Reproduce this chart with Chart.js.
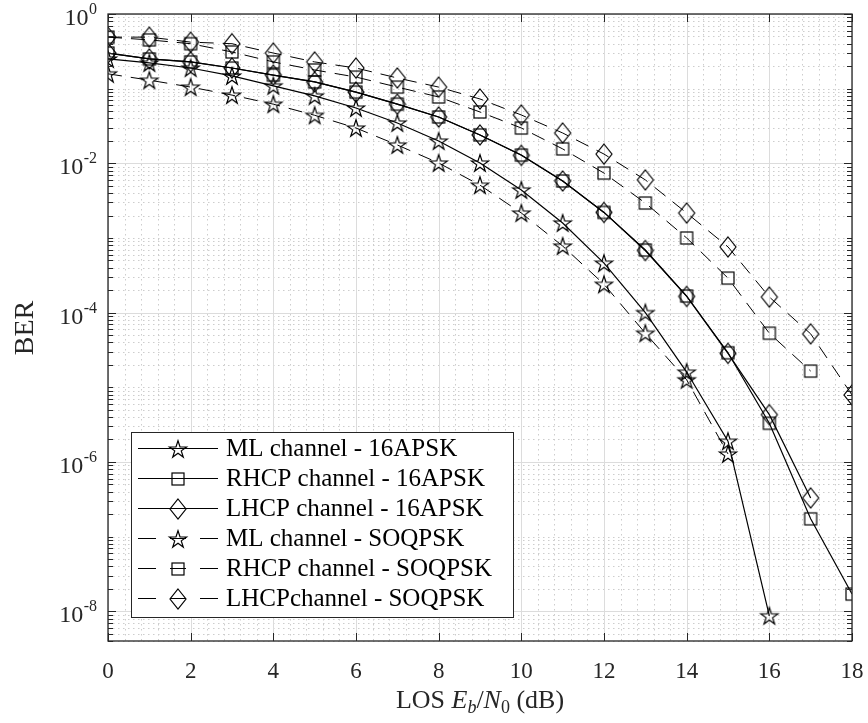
<!DOCTYPE html>
<html>
<head>
<meta charset="utf-8">
<script src="https://cdn.jsdelivr.net/npm/chart.js@4.4.0/dist/chart.umd.min.js"></script>
<style>
body { margin: 0; background: #fff; }
#wrap { width: 868px; height: 723px; }
</style>
</head>
<body>
<div id="wrap"><canvas id="myChart" width="868" height="723"></canvas></div>
<script>
// datos
const snr = [0, 1, 2, 3, 4, 5, 6, 7, 8, 9, 10, 11, 12, 13, 14, 15, 16, 17, 18];
const mlApsk = [0.25, 0.221, 0.189, 0.148, 0.109, 0.080, 0.055, 0.0347, 0.0199, 0.0101, 0.0044, 0.00159, 4.6e-4, 1.0e-4, 1.6e-5, 1.9e-6, 8.7e-9];
const rhcpApsk = [0.30, 0.25, 0.228, 0.189, 0.152, 0.123, 0.090, 0.062, 0.0418, 0.024, 0.0129, 0.0058, 0.0022, 6.9e-4, 1.67e-4, 2.9e-5, 3.3e-6, 1.73e-7, 1.7e-8];
const lhcpApsk = [0.30, 0.25, 0.228, 0.189, 0.152, 0.123, 0.090, 0.062, 0.0418, 0.024, 0.0128, 0.0058, 0.0022, 6.8e-4, 1.65e-4, 2.85e-5, 4.3e-6, 3.3e-7];
const mlSoqpsk = [0.158, 0.13, 0.105, 0.082, 0.062, 0.044, 0.0297, 0.0176, 0.0101, 0.0051, 0.00216, 7.8e-4, 2.4e-4, 5.3e-5, 1.26e-5, 1.28e-6];
const rhcpSoqpsk = [0.49, 0.45, 0.40, 0.31, 0.228, 0.178, 0.143, 0.105, 0.0774, 0.0487, 0.0297, 0.0156, 0.0074, 0.00294, 1.0e-3, 2.9e-4, 5.3e-5, 1.65e-5];
const lhcpSoqpsk = [0.49, 0.49, 0.42, 0.40, 0.30, 0.228, 0.189, 0.139, 0.105, 0.0727, 0.0444, 0.0255, 0.0133, 0.006, 0.00216, 7.6e-4, 1.62e-4, 5.2e-5, 7.9e-6];
const xTicks = [0, 2, 4, 6, 8, 10, 12, 14, 16, 18];
const yTickExps = [0, -2, -4, -6, -8];
const legendLabels = [
    'ML channel - 16APSK',
    'RHCP channel - 16APSK',
    'LHCP channel - 16APSK',
    'ML channel - SOQPSK',
    'RHCP channel - SOQPSK',
    'LHCPchannel - SOQPSK'
];

const serif = '"Liberation Serif", "DejaVu Serif", serif';

// marcadores
const makeStar = () => {
    const c = document.createElement('canvas');
    c.width = 22; c.height = 22;
    const g = c.getContext('2d');
    const R = 9, r = R * 0.382;
    g.beginPath();
    for (let i = 0; i < 10; i++) {
        const rad = i % 2 === 0 ? R : r;
        const ang = -Math.PI / 2 + i * Math.PI / 5;
        const px = 11 + rad * Math.cos(ang);
        const py = 11.8 + rad * Math.sin(ang);
        if (i === 0) g.moveTo(px, py); else g.lineTo(px, py);
    }
    g.closePath();
    g.lineWidth = 1.2;
    g.strokeStyle = '#000';
    g.stroke();
    return c;
};

const makeSquare = () => {
    const c = document.createElement('canvas');
    c.width = 16; c.height = 16;
    const g = c.getContext('2d');
    g.lineWidth = 1.2;
    g.strokeStyle = '#000';
    g.strokeRect(2, 2, 12, 12);
    return c;
};

const makeDiamond = () => {
    const c = document.createElement('canvas');
    c.width = 20; c.height = 24;
    const g = c.getContext('2d');
    g.beginPath();
    g.moveTo(10, 2); g.lineTo(18, 12); g.lineTo(10, 22); g.lineTo(2, 12);
    g.closePath();
    g.lineWidth = 1.2;
    g.strokeStyle = '#000';
    g.stroke();
    return c;
};

const star = makeStar();
const square = makeSquare();
const diamond = makeDiamond();

const toPoints = (vals) => vals.map((v, i) => ({ x: snr[i], y: v }));

const serie = (label, vals, marker, dashed) => ({
    label: label,
    data: toPoints(vals),
    borderColor: '#000',
    borderWidth: dashed ? 1 : 1.2,
    borderDash: dashed ? [14, 9] : [],
    pointStyle: marker,
    pointRadius: 8,
    pointHoverRadius: 8,
    fill: false,
    tension: 0
});

// rejilla menor en y
const yMinor = [];
for (let e = -9; e <= -1; e++) {
    for (let m = 1; m <= 9; m++) {
        if (m === 1 && e % 2 === 0) continue;
        const v = m * Math.pow(10, e);
        if (v >= 4e-9 && v < 1) yMinor.push(v);
    }
}

const hLine = (ctx, x1, x2, yy) => { ctx.beginPath(); ctx.moveTo(x1, yy); ctx.lineTo(x2, yy); ctx.stroke(); };
const vLine = (ctx, xx, y1, y2) => { ctx.beginPath(); ctx.moveTo(xx, y1); ctx.lineTo(xx, y2); ctx.stroke(); };

const ejes = {
    id: 'ejes',
    beforeDatasetsDraw(chart) {
        const { ctx, chartArea: a, scales: { x, y } } = chart;
        ctx.save();
        ctx.lineWidth = 1;
        ctx.strokeStyle = '#cdcdcd';
        ctx.setLineDash([1.5, 3.5]);
        for (let i = 1; i < 45; i++) {
            if (i % 5 === 0) continue;
            const px = Math.round(x.getPixelForValue(i * 0.4)) + 0.5;
            vLine(ctx, px, a.top, a.bottom);
        }
        yMinor.forEach(v => {
            const py = Math.round(y.getPixelForValue(v)) + 0.5;
            hLine(ctx, a.left, a.right, py);
        });
        ctx.setLineDash([]);
        ctx.strokeStyle = '#dcdcdc';
        xTicks.forEach(t => {
            const px = Math.round(x.getPixelForValue(t)) + 0.5;
            vLine(ctx, px, a.top, a.bottom);
        });
        yTickExps.forEach(e => {
            const py = Math.round(y.getPixelForValue(Math.pow(10, e))) + 0.5;
            hLine(ctx, a.left, a.right, py);
        });
        ctx.restore();
    },
    afterDraw(chart) {
        const { ctx, chartArea: a, scales: { x, y } } = chart;
        ctx.save();
        ctx.strokeStyle = '#262626';
        ctx.lineWidth = 1.3;
        ctx.strokeRect(a.left, a.top, a.right - a.left, a.bottom - a.top);
        ctx.lineWidth = 1;
        xTicks.forEach(t => {
            const px = Math.round(x.getPixelForValue(t)) + 0.5;
            vLine(ctx, px, a.bottom, a.bottom - 8);
            vLine(ctx, px, a.top, a.top + 8);
        });
        yTickExps.forEach(e => {
            const py = Math.round(y.getPixelForValue(Math.pow(10, e))) + 0.5;
            hLine(ctx, a.left, a.left + 8, py);
            hLine(ctx, a.right, a.right - 8, py);
        });
        yMinor.forEach(v => {
            const py = Math.round(y.getPixelForValue(v)) + 0.5;
            hLine(ctx, a.left, a.left + 5, py);
            hLine(ctx, a.right, a.right - 5, py);
        });

        // etiquetas
        ctx.fillStyle = '#262626';
        ctx.textBaseline = 'alphabetic';
        ctx.font = '23px ' + serif;
        ctx.textAlign = 'center';
        xTicks.forEach(t => {
            ctx.fillText(String(t), x.getPixelForValue(t), 678);
        });
        yTickExps.forEach(e => {
            const py = y.getPixelForValue(Math.pow(10, e));
            const ex = e === 0 ? '0' : '-' + String(-e);
            ctx.font = '16px ' + serif;
            const we = ctx.measureText(ex).width;
            ctx.textAlign = 'left';
            ctx.fillText(ex, 97 - we, py);
            ctx.font = '24px ' + serif;
            ctx.textAlign = 'right';
            ctx.fillText('10', 97 - we - 0.5, py + 11);
        });

        // titulo eje y
        ctx.save();
        ctx.translate(33, 328);
        ctx.rotate(-Math.PI / 2);
        ctx.textAlign = 'center';
        ctx.font = '28px ' + serif;
        ctx.fillText('BER', 0, 0);
        ctx.restore();

        // titulo eje x
        const parts = [
            { t: 'LOS ', f: '26px ' + serif, dy: 0 },
            { t: 'E', f: 'italic 26px ' + serif, dy: 0 },
            { t: 'b', f: 'italic 18px ' + serif, dy: 5 },
            { t: '/', f: '26px ' + serif, dy: 0 },
            { t: 'N', f: 'italic 26px ' + serif, dy: 0 },
            { t: '0', f: '18px ' + serif, dy: 5 },
            { t: ' (dB)', f: '26px ' + serif, dy: 0 }
        ];
        let total = 0;
        parts.forEach(p => { ctx.font = p.f; p.w = ctx.measureText(p.t).width; total += p.w; });
        let cx = (a.left + a.right) / 2 - total / 2;
        ctx.textAlign = 'left';
        parts.forEach(p => {
            ctx.font = p.f;
            ctx.fillText(p.t, cx, 708 + p.dy);
            cx += p.w;
        });

        // leyenda
        const lx = 131, ly = 432, lw = 382, lh = 185;
        ctx.fillStyle = '#fff';
        ctx.fillRect(lx, ly, lw, lh);
        ctx.strokeStyle = '#262626';
        ctx.lineWidth = 1;
        ctx.strokeRect(lx + 0.5, ly + 0.5, lw, lh);
        chart.data.datasets.forEach((ds, i) => {
            const ry = Math.round(ly + 16 + i * 30) + 0.5;
            ctx.strokeStyle = '#000';
            ctx.lineWidth = ds.borderWidth;
            if (ds.borderDash.length) {
                hLine(ctx, 138, 156, ry);
                hLine(ctx, 170, 186, ry);
                hLine(ctx, 200, 218, ry);
            } else {
                hLine(ctx, 138, 218, ry);
            }
            const m = ds.pointStyle;
            ctx.drawImage(m, 178 - m.width / 2, Math.round(ry - m.height / 2));
            ctx.fillStyle = '#000';
            ctx.font = '25px ' + serif;
            ctx.textAlign = 'left';
            ctx.textBaseline = 'middle';
            ctx.fillText(legendLabels[i], 226, ry + 1);
        });
        ctx.restore();
    }
};

const ctx = document.getElementById('myChart');

new Chart(ctx, {
    type: 'line',
    data: {
        datasets: [
            serie(legendLabels[0], mlApsk, star, false),
            serie(legendLabels[1], rhcpApsk, square, false),
            serie(legendLabels[2], lhcpApsk, diamond, false),
            serie(legendLabels[3], mlSoqpsk, star, true),
            serie(legendLabels[4], rhcpSoqpsk, square, true),
            serie(legendLabels[5], lhcpSoqpsk, diamond, true)
        ]
    },
    options: {
        responsive: false,
        animation: false,
        layout: { padding: { top: 14, right: 16, bottom: 0, left: 0 } },
        plugins: {
            legend: { display: false },
            tooltip: { enabled: false }
        },
        scales: {
            x: {
                type: 'linear',
                min: 0,
                max: 18,
                ticks: { display: false, stepSize: 2 },
                grid: { display: false },
                border: { display: false },
                afterFit: (s) => { s.height = 82; }
            },
            y: {
                type: 'logarithmic',
                min: 4e-9,
                max: 1,
                ticks: { display: false },
                grid: { display: false },
                border: { display: false },
                afterFit: (s) => { s.width = 108; }
            }
        }
    },
    plugins: [ejes]
});
</script>
</body>
</html>
